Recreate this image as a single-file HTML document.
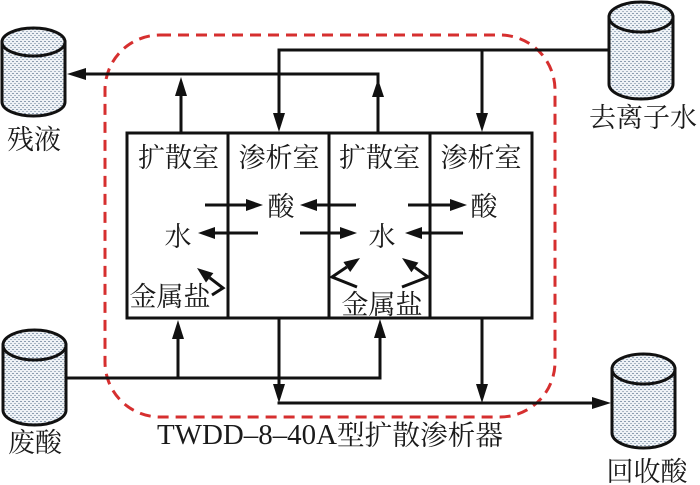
<!DOCTYPE html>
<html><head><meta charset="utf-8"><style>
html,body{margin:0;padding:0;background:#fff;}
svg{display:block;}
text{font-family:"Liberation Serif","Noto Serif CJK SC",serif;fill:#1a1a1a;}
.cj{font-family:"Liberation Serif","Noto Serif CJK SC",serif;}
</style></head><body>
<svg width="700" height="485" viewBox="0 0 700 485" xmlns="http://www.w3.org/2000/svg">
<defs>
<pattern id="dots" width="4" height="4" patternUnits="userSpaceOnUse">
<rect width="4" height="4" fill="#eef2f6"/>
<rect x="0" y="1" width="2" height="1" fill="#8b9db0"/>
<rect x="2" y="3" width="2" height="1" fill="#a7b5c3"/>
</pattern>
</defs>

<!-- red dashed enclosure -->
<rect x="105" y="35" width="450" height="382" rx="55" ry="55" fill="none" stroke="#d62f2f" stroke-width="3" stroke-dasharray="11 7"/>

<!-- cylinders -->
<g stroke="#111" stroke-width="3" fill="url(#dots)">
<path d="M2,42 L2,102 A31.5,14 0 0 0 65,102 L65,42 Z"/>
<ellipse cx="33.5" cy="42" rx="31.5" ry="14"/>
<path d="M609,17 L609,84 A32,15 0 0 0 673,84 L673,17 Z"/>
<ellipse cx="641" cy="17" rx="32" ry="15"/>
<path d="M3,345 L3,410 A31.5,15 0 0 0 66,410 L66,345 Z"/>
<ellipse cx="34.5" cy="345" rx="31.5" ry="15"/>
<path d="M612,369 L612,433 A31.5,15 0 0 0 675,433 L675,369 Z"/>
<ellipse cx="643.5" cy="369" rx="31.5" ry="15"/>
</g>

<!-- main box -->
<g stroke="#111" stroke-width="3" fill="none">
<rect x="127" y="133" width="405" height="185"/>
<line x1="228" y1="133" x2="228" y2="318"/>
<line x1="329" y1="133" x2="329" y2="318"/>
<line x1="430" y1="133" x2="430" y2="318"/>
</g>

<!-- pipes -->
<g stroke="#111" stroke-width="3" fill="none">
<line x1="84" y1="74" x2="379.5" y2="74"/>
<line x1="181" y1="133" x2="181" y2="94"/>
<line x1="378" y1="133" x2="378" y2="74"/>
<line x1="277.5" y1="50" x2="609" y2="50"/>
<line x1="279" y1="50" x2="279" y2="115"/>
<line x1="482" y1="50" x2="482" y2="115"/>
<line x1="66" y1="378" x2="381.5" y2="378"/>
<line x1="380" y1="379.5" x2="380" y2="336"/>
<line x1="178" y1="378" x2="178" y2="337"/>
<line x1="279" y1="318" x2="279" y2="386"/>
<line x1="277.5" y1="403" x2="594" y2="403"/>
<line x1="482" y1="318" x2="482" y2="386"/>
<!-- inner arrows -->
<line x1="205" y1="205" x2="247" y2="205"/>
<line x1="356" y1="205" x2="316" y2="205"/>
<line x1="408" y1="205" x2="451" y2="205"/>
<line x1="258" y1="233" x2="214" y2="233"/>
<line x1="300" y1="233" x2="341" y2="233"/>
<line x1="463" y1="233" x2="421" y2="233"/>
<polyline points="212,295 223,288 209.7,277.8"/>
<polyline points="357,287 332,277 346.8,267"/>
<polyline points="402,287 428,277 414.9,267.4"/>
</g>

<!-- arrowheads -->
<g fill="#111" stroke="none">
<polygon points="67,74 86,68 86,80"/>
<polygon points="181,77 175,96 187,96"/>
<polygon points="378,79 372,97 384,97"/>
<polygon points="279,132 273,113 285,113"/>
<polygon points="482,132 476,113 488,113"/>
<polygon points="380,319 374,338 386,338"/>
<polygon points="178,320 172,339 184,339"/>
<polygon points="279,403 273,384 285,384"/>
<polygon points="482,403 476,384 488,384"/>
<polygon points="611,403 592,397 592,409"/>
<polygon points="263,205 246,199 246,211"/>
<polygon points="300,205 317,199 317,211"/>
<polygon points="467,205 450,199 450,211"/>
<polygon points="198,233 215,227 215,239"/>
<polygon points="357,233 340,227 340,239"/>
<polygon points="405,233 422,227 422,239"/>
<polygon points="197,268 213.4,273.1 206,282.5"/>
<polygon points="360,258 350.2,272 343.4,262"/>
<polygon points="402,258 418.4,262.6 411.4,272.2"/>
</g>

<!-- labels -->
<g font-size="27" text-anchor="middle" dominant-baseline="central">
<text x="178.5" y="158">扩散室</text>
<text x="279" y="158">渗析室</text>
<text x="379.5" y="158">扩散室</text>
<text x="481" y="158">渗析室</text>
<text x="281" y="207">酸</text>
<text x="484" y="207">酸</text>
<text x="178" y="237">水</text>
<text x="382" y="237">水</text>
<text x="170" y="297">金属盐</text>
<text x="382" y="305">金属盐</text>
<text x="34" y="140">残液</text>
<text x="643" y="118">去离子水</text>
<text x="35" y="443">废酸</text>
<text x="647" y="472">回收酸</text>
</g>
<text x="157" y="435" font-size="29" dominant-baseline="central" font-family="Liberation Serif, serif" textLength="180" lengthAdjust="spacingAndGlyphs">TWDD–8–40A</text>
<text x="337" y="435" font-size="27.5" dominant-baseline="central" textLength="166" lengthAdjust="spacingAndGlyphs">型扩散渗析器</text>
</svg>
</body></html>
